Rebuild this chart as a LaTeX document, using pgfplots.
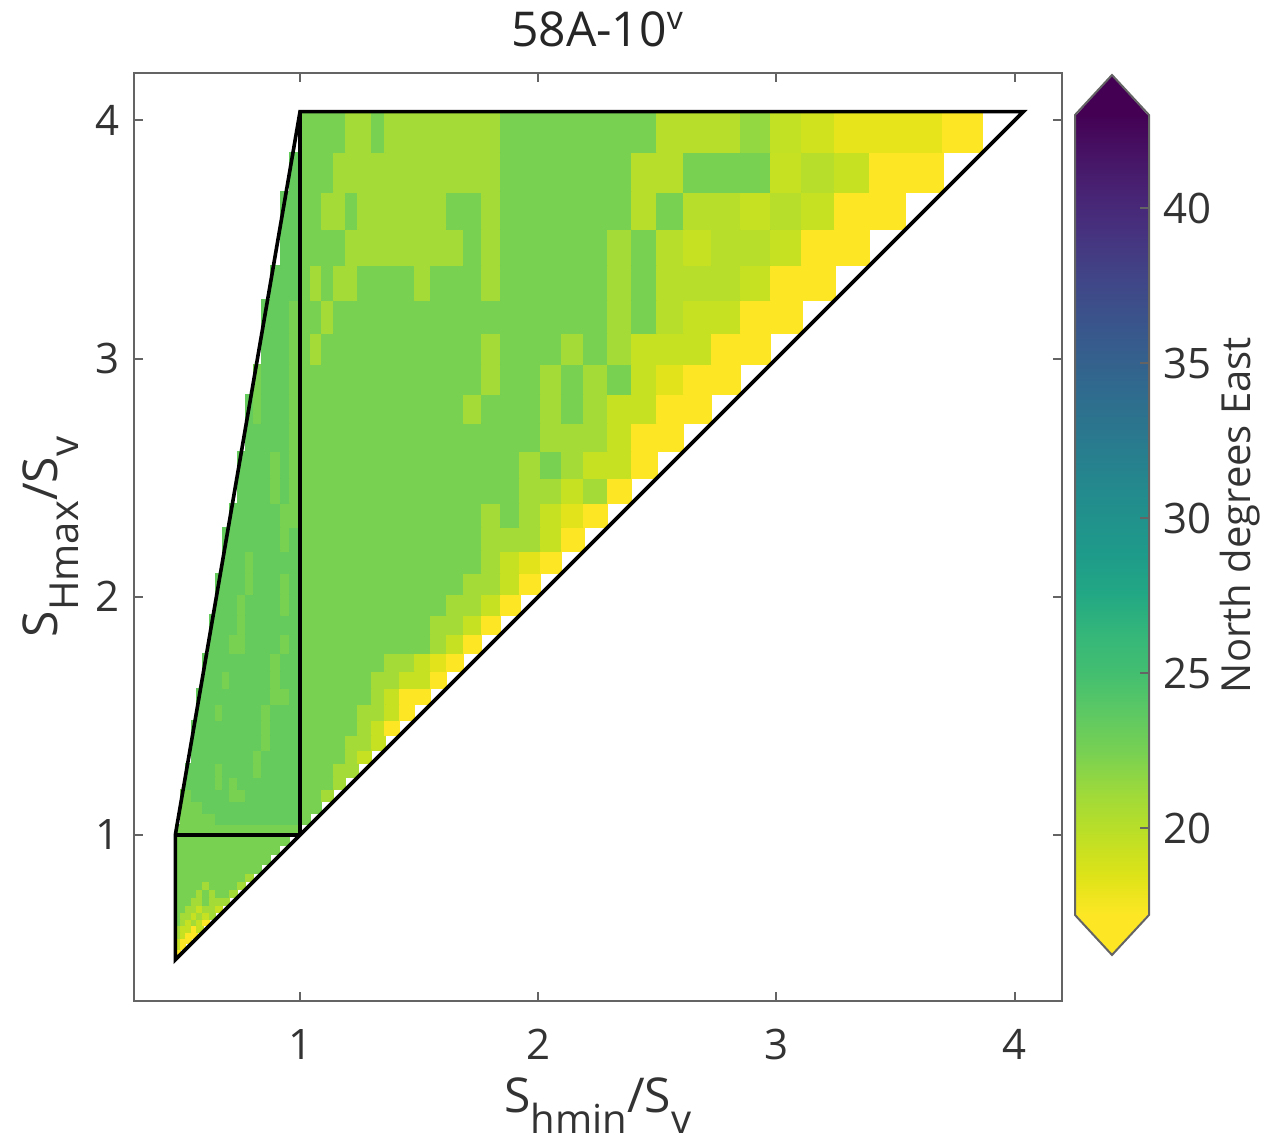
\documentclass[border=0pt]{standalone}
\usepackage{pgfplots}
\pgfplotsset{compat=1.18}
\usepackage{pgfplotstable}
\usepackage{fontspec}
\setmainfont{Open Sans}
\definecolor{framegray}{RGB}{100,100,100}
\definecolor{cm0}{RGB}{253,231,37}
\definecolor{cm1}{RGB}{221,227,24}
\definecolor{cm2}{RGB}{189,223,38}
\definecolor{cm3}{RGB}{160,218,57}
\definecolor{cm4}{RGB}{122,209,81}
\definecolor{cm5}{RGB}{94,201,98}
\definecolor{cm6}{RGB}{68,191,112}
\definecolor{cm7}{RGB}{53,183,121}
\definecolor{cm8}{RGB}{34,168,132}
\definecolor{cm9}{RGB}{30,155,138}
\definecolor{cm10}{RGB}{33,145,140}
\definecolor{cm11}{RGB}{37,133,142}
\definecolor{cm12}{RGB}{42,120,142}
\definecolor{cm13}{RGB}{47,108,142}
\definecolor{cm14}{RGB}{53,95,141}
\definecolor{cm15}{RGB}{59,82,139}
\definecolor{cm16}{RGB}{65,68,135}
\definecolor{cm17}{RGB}{70,51,127}
\definecolor{cm18}{RGB}{72,36,117}
\definecolor{cm19}{RGB}{71,19,101}
\definecolor{cm20}{RGB}{68,1,84}
\newcommand{\subl}[1]{\raisebox{-0.42em}{\fontsize{10}{12}\selectfont #1}}
\def\cellparse#1:#2:#3:#4\relax{\def\cj{#1}\def\ca{#2}\def\cb{#3}\def\cv{#4}}

% runs of cells: row j, columns a..b, value v (grid edges 1.04457^(k-17))
\pgfplotstableread{
j a b v
1 0 0 17.2
2 0 0 19.4
2 1 1 17.2
3 0 0 19.4
3 1 2 17.2
4 0 0 20.9
4 1 1 19.4
4 2 3 17.2
5 0 0 20.9
5 1 2 19.4
5 3 3 17.2
5 4 4 19.4
6 0 0 22.4
6 1 1 20.9
6 2 2 19.4
6 3 3 20.9
6 4 4 19.4
6 5 5 17.2
7 0 0 22.4
7 1 2 20.9
7 3 3 19.4
7 4 4 20.9
7 5 5 19.4
7 6 6 20.9
8 0 1 22.4
8 2 3 20.9
8 4 4 19.4
8 5 6 20.9
8 7 7 19.4
9 0 2 22.4
9 3 4 20.9
9 5 5 22.4
9 6 8 20.9
10 0 3 22.4
10 4 4 20.9
10 5 5 22.4
10 6 6 20.9
10 7 8 22.4
10 9 9 20.9
11 0 4 22.4
11 5 5 20.9
11 6 9 22.4
11 10 10 20.9
12 0 10 22.4
12 11 11 20.9
13 0 12 22.4
14 0 13 22.4
15 0 14 22.4
16 0 15 22.4
17 0 16 22.4
18 1 6 22.4
18 7 16 23.3
18 17 17 22.4
19 1 4 22.4
19 5 16 23.3
19 17 18 22.4
20 1 2 22.4
20 3 8 23.3
20 9 10 22.4
20 11 16 23.3
20 17 18 22.4
20 19 19 20.9
21 2 6 23.3
21 7 7 22.4
21 8 8 23.3
21 9 9 22.4
21 10 16 23.3
21 17 19 22.4
21 20 20 20.9
22 2 6 23.3
22 7 7 22.4
22 8 11 23.3
22 12 12 22.4
22 13 16 23.3
22 17 19 22.4
22 20 21 20.9
23 3 11 23.3
23 12 12 22.4
23 13 16 23.3
23 17 20 22.4
23 21 21 20.9
23 22 22 19.4
24 3 12 23.3
24 13 13 22.4
24 14 16 23.3
24 17 20 22.4
24 21 22 20.9
24 23 23 19.4
25 3 12 23.3
25 13 13 22.4
25 14 16 23.3
25 17 21 22.4
25 22 22 20.9
25 23 23 19.4
25 24 24 17.2
26 4 6 23.3
26 7 7 22.4
26 8 12 23.3
26 13 13 22.4
26 14 16 23.3
26 17 21 22.4
26 22 23 20.9
26 24 24 19.4
26 25 25 17.2
27 4 13 23.3
27 14 15 22.4
27 16 16 23.3
27 17 22 22.4
27 23 23 20.9
27 24 24 19.4
27 25 26 17.2
28 5 7 23.3
28 8 8 22.4
28 9 13 23.3
28 14 14 22.4
28 15 16 23.3
28 17 22 22.4
28 23 24 20.9
28 25 26 19.4
28 27 27 17.2
29 5 13 23.3
29 14 14 22.4
29 15 16 23.3
29 17 23 22.4
29 24 25 20.9
29 26 26 19.4
29 27 27 18.3
29 28 28 17.2
30 6 8 23.3
30 9 10 22.4
30 11 14 23.3
30 15 15 22.4
30 16 16 23.3
30 17 26 22.4
30 27 27 20.9
30 28 28 19.4
30 29 29 17.2
31 6 9 23.3
31 10 10 22.4
31 11 16 23.3
31 17 26 22.4
31 27 28 20.9
31 29 29 19.4
31 30 30 17.2
32 7 9 23.3
32 10 10 22.4
32 11 14 23.3
32 15 15 22.4
32 16 16 23.3
32 17 27 22.4
32 28 29 20.9
32 30 30 19.4
32 31 31 17.2
33 7 10 23.3
33 11 11 22.4
33 12 14 23.3
33 15 15 22.4
33 16 16 23.3
33 17 28 22.4
33 29 30 20.9
33 31 31 19.4
33 32 32 17.2
34 8 10 23.3
34 11 11 22.4
34 12 16 23.3
34 17 29 22.4
34 30 30 20.9
34 31 31 19.4
34 32 32 18.3
34 33 33 17.2
35 8 14 23.3
35 15 15 22.4
35 16 16 23.3
35 17 29 22.4
35 30 32 20.9
35 33 33 19.4
35 34 34 17.2
36 9 14 23.3
36 15 29 22.4
36 30 30 20.9
36 31 31 22.4
36 32 32 20.9
36 33 33 19.4
36 34 34 18.3
36 35 35 17.2
37 10 13 23.3
37 14 14 22.4
37 15 15 23.3
37 16 31 22.4
37 32 33 20.9
37 34 34 19.4
37 35 35 20.9
37 36 36 17.2
38 10 13 23.3
38 14 14 22.4
38 15 15 23.3
38 16 31 22.4
38 32 32 20.9
38 33 33 22.4
38 34 34 20.9
38 35 36 19.4
38 37 37 17.2
39 11 15 23.3
39 16 32 22.4
39 33 35 20.9
39 36 36 19.4
39 37 38 17.2
40 11 11 23.3
40 12 12 22.4
40 13 15 23.3
40 16 28 22.4
40 29 29 20.9
40 30 32 22.4
40 33 33 20.9
40 34 34 22.4
40 35 35 20.9
40 36 37 19.4
40 38 39 17.2
41 12 12 22.4
41 13 15 23.3
41 16 29 22.4
41 30 30 20.9
41 31 32 22.4
41 33 33 20.9
41 34 34 22.4
41 35 35 20.9
41 36 36 22.4
41 37 37 19.4
41 38 38 18.3
41 39 40 17.2
42 13 15 23.3
42 16 17 22.4
42 18 18 20.9
42 19 29 22.4
42 30 30 20.9
42 31 33 22.4
42 34 34 20.9
42 35 35 22.4
42 36 36 20.9
42 37 39 19.4
42 40 41 17.2
43 13 15 23.3
43 16 18 22.4
43 19 19 20.9
43 20 35 22.4
43 36 36 20.9
43 37 37 22.4
43 38 38 20.1
43 39 40 19.4
43 41 42 17.2
44 14 16 23.3
44 17 17 22.4
44 18 18 20.9
44 19 19 22.4
44 20 21 20.9
44 22 25 22.4
44 26 26 20.9
44 27 29 22.4
44 30 30 20.9
44 31 35 22.4
44 36 36 20.9
44 37 37 22.4
44 38 40 20.1
44 41 41 19.4
44 42 43 17.2
45 15 16 23.3
45 17 20 22.4
45 21 28 20.9
45 29 29 22.4
45 30 30 20.9
45 31 35 22.4
45 36 36 20.9
45 37 37 22.4
45 38 38 20.1
45 39 39 19.4
45 40 41 20.1
45 42 42 19.4
45 43 44 17.2
46 15 16 23.3
46 17 18 22.4
46 19 20 20.9
46 21 21 22.4
46 22 27 20.9
46 28 29 22.4
46 30 30 20.9
46 31 36 22.4
46 37 37 20.1
46 38 38 22.4
46 39 40 20.1
46 41 41 19.4
46 42 42 20.1
46 43 43 19.4
46 44 45 17.2
47 16 16 23.3
47 17 19 22.4
47 20 30 20.9
47 31 36 22.4
47 37 38 20.1
47 39 41 22.4
47 42 42 19.4
47 43 43 20.1
47 44 44 19.4
47 45 46 17.2
48 17 20 22.4
48 21 22 20.9
48 23 23 22.4
48 24 30 20.9
48 31 37 22.4
48 38 40 20.1
48 41 41 21.5
48 42 42 19.6
48 43 43 19.0
48 44 46 18.1
48 47 47 17.2
}\celltable
\pgfplotstablecreatecol[create col/assign/.code={%
  \getthisrow{j}\tj \getthisrow{a}\ta \getthisrow{b}\tb \getthisrow{v}\tv
  \edef\entry{\tj:\ta:\tb:\tv}%
  \pgfkeyslet{/pgfplots/table/create col/next content}\entry
}]{m}\celltable

\begin{document}
\begin{tikzpicture}
\path[use as bounding box] (-33.5pt,-35.25pt) rectangle (283pt,250.25pt);
\begin{axis}[
  at={(0pt,0pt)}, anchor=south west,
  scale only axis, width=232pt, height=232pt,
  xmin=0.303, xmax=4.199, ymin=0.303, ymax=4.199,
  xtick={1,2,3,4}, ytick={1,2,3,4},
  tick align=inside, major tick length=2.2pt,
  axis line style={framegray, line width=0.5pt},
  every tick/.append style={framegray, line width=0.5pt},
  /pgf/number format/assume math mode=true,
  tick label style={font=\fontsize{10.5}{12}\selectfont, text=black!80},
  xticklabel style={yshift=-3.5pt},
  colormap={rviridis}{color=(cm0) color=(cm1) color=(cm2) color=(cm3) color=(cm4) color=(cm5) color=(cm6) color=(cm7) color=(cm8) color=(cm9) color=(cm10) color=(cm11) color=(cm12) color=(cm13) color=(cm14) color=(cm15) color=(cm16) color=(cm17) color=(cm18) color=(cm19) color=(cm20)},
  point meta min=17.2, point meta max=43,
  clip marker paths=true,
  title={58A-10\textsuperscript{v}},
  every axis title/.style={at={(axis description cs:0.5,1.028)}, anchor=base, font=\fontsize{12}{14}\selectfont, text=black!85},
  xlabel={S\subl{hmin}/S\subl{v}},
  ylabel={S\subl{Hmax}/S\subl{v}},
  every axis x label/.style={at={(axis description cs:0.5,-0.1207)}, anchor=base, font=\fontsize{12}{14}\selectfont, text=black!80},
  every axis y label/.style={at={(axis description cs:-0.082,0.5)}, anchor=base, rotate=90, font=\fontsize{12}{14}\selectfont, text=black!80},
]
\addplot[scatter, only marks, mark=*, mark size=0pt, mark options={draw=none, fill=none},
  point meta=explicit symbolic,
  scatter/@pre marker code/.code={%
    \expandafter\cellparse\pgfplotspointmeta\relax
    \pgfmathsetmacro\dx{1.04457^(\cb-16)-1.04457^(\ca-17)}%
    \pgfmathsetmacro\dy{0.04457*1.04457^(\cj-17)}%
    \pgfmathsetmacro\cm{(\cv-17.2)*1000/25.8}%
    \pgfplotscolormapdefinemappedcolor{\cm}%
    \filldraw[mapped color, line width=0.3pt] (0pt,0pt) rectangle (axis direction cs:\dx,\dy);%
  },
  scatter/@post marker code/.code={},
] table[x expr={1.04457^(\thisrow{a}-17)}, y expr={1.04457^(\thisrow{j}-17)}, meta=m] {\celltable};
\addplot[black, line width=0.9pt, mark=none, line join=miter] coordinates {(0.4765,0.4765) (4.0365,4.0365) (1,4.0365) (0.4765,1) (0.4765,0.4765) (0.5,0.5)};
\addplot[black, line width=0.9pt, mark=none] coordinates {(1,1) (1,4.0365)};
\addplot[black, line width=0.9pt, mark=none] coordinates {(0.4765,1) (1,1)};
\end{axis}
\begin{axis}[at={(235.25pt,21.5pt)}, anchor=south west, scale only axis, width=18.5pt, height=200pt,
  xmin=0, xmax=1, ymin=17.2, ymax=43, clip=false, axis on top,
  axis line style={draw=none}, xtick=\empty,
  ytick={20,25,30,35,40}, ytick pos=right, yticklabel pos=right,
  tick align=inside, major tick length=2.2pt,
  every tick/.append style={framegray, line width=0.5pt},
  /pgf/number format/assume math mode=true,
  yticklabel style={font=\fontsize{10.5}{12}\selectfont, text=black!80},
  ylabel={North degrees East},
  every axis y label/.style={at={(axis description cs:2.365,0.5)}, anchor=base, rotate=90, font=\fontsize{10}{12}\selectfont, text=black!80},
]
\addplot[draw=none, bottom color=cm0, top color=cm1] coordinates {(0,17.2) (1,17.2) (1,18.51) (0,18.51)};
\addplot[draw=none, bottom color=cm1, top color=cm2] coordinates {(0,18.49) (1,18.49) (1,19.80) (0,19.80)};
\addplot[draw=none, bottom color=cm2, top color=cm3] coordinates {(0,19.78) (1,19.78) (1,21.09) (0,21.09)};
\addplot[draw=none, bottom color=cm3, top color=cm4] coordinates {(0,21.07) (1,21.07) (1,22.38) (0,22.38)};
\addplot[draw=none, bottom color=cm4, top color=cm5] coordinates {(0,22.36) (1,22.36) (1,23.67) (0,23.67)};
\addplot[draw=none, bottom color=cm5, top color=cm6] coordinates {(0,23.65) (1,23.65) (1,24.96) (0,24.96)};
\addplot[draw=none, bottom color=cm6, top color=cm7] coordinates {(0,24.94) (1,24.94) (1,26.25) (0,26.25)};
\addplot[draw=none, bottom color=cm7, top color=cm8] coordinates {(0,26.23) (1,26.23) (1,27.54) (0,27.54)};
\addplot[draw=none, bottom color=cm8, top color=cm9] coordinates {(0,27.52) (1,27.52) (1,28.83) (0,28.83)};
\addplot[draw=none, bottom color=cm9, top color=cm10] coordinates {(0,28.81) (1,28.81) (1,30.12) (0,30.12)};
\addplot[draw=none, bottom color=cm10, top color=cm11] coordinates {(0,30.10) (1,30.10) (1,31.41) (0,31.41)};
\addplot[draw=none, bottom color=cm11, top color=cm12] coordinates {(0,31.39) (1,31.39) (1,32.70) (0,32.70)};
\addplot[draw=none, bottom color=cm12, top color=cm13] coordinates {(0,32.68) (1,32.68) (1,33.99) (0,33.99)};
\addplot[draw=none, bottom color=cm13, top color=cm14] coordinates {(0,33.97) (1,33.97) (1,35.28) (0,35.28)};
\addplot[draw=none, bottom color=cm14, top color=cm15] coordinates {(0,35.26) (1,35.26) (1,36.57) (0,36.57)};
\addplot[draw=none, bottom color=cm15, top color=cm16] coordinates {(0,36.55) (1,36.55) (1,37.86) (0,37.86)};
\addplot[draw=none, bottom color=cm16, top color=cm17] coordinates {(0,37.84) (1,37.84) (1,39.15) (0,39.15)};
\addplot[draw=none, bottom color=cm17, top color=cm18] coordinates {(0,39.13) (1,39.13) (1,40.44) (0,40.44)};
\addplot[draw=none, bottom color=cm18, top color=cm19] coordinates {(0,40.42) (1,40.42) (1,41.73) (0,41.73)};
\addplot[draw=none, bottom color=cm19, top color=cm20] coordinates {(0,41.71) (1,41.71) (1,43.0) (0,43.0)};
\addplot[fill=cm20, draw=none] coordinates {(0,42.95) (0.5,44.29) (1,42.95)};
\addplot[fill=cm0, draw=none] coordinates {(0,17.25) (0.5,15.91) (1,17.25)};
\addplot[draw=framegray, line width=0.5pt, mark=none] coordinates {(0,17.2) (0,43) (0.5,44.29) (1,43) (1,17.2) (0.5,15.91) (0,17.2) (0,17.5)};
\end{axis}
\end{tikzpicture}
\end{document}
